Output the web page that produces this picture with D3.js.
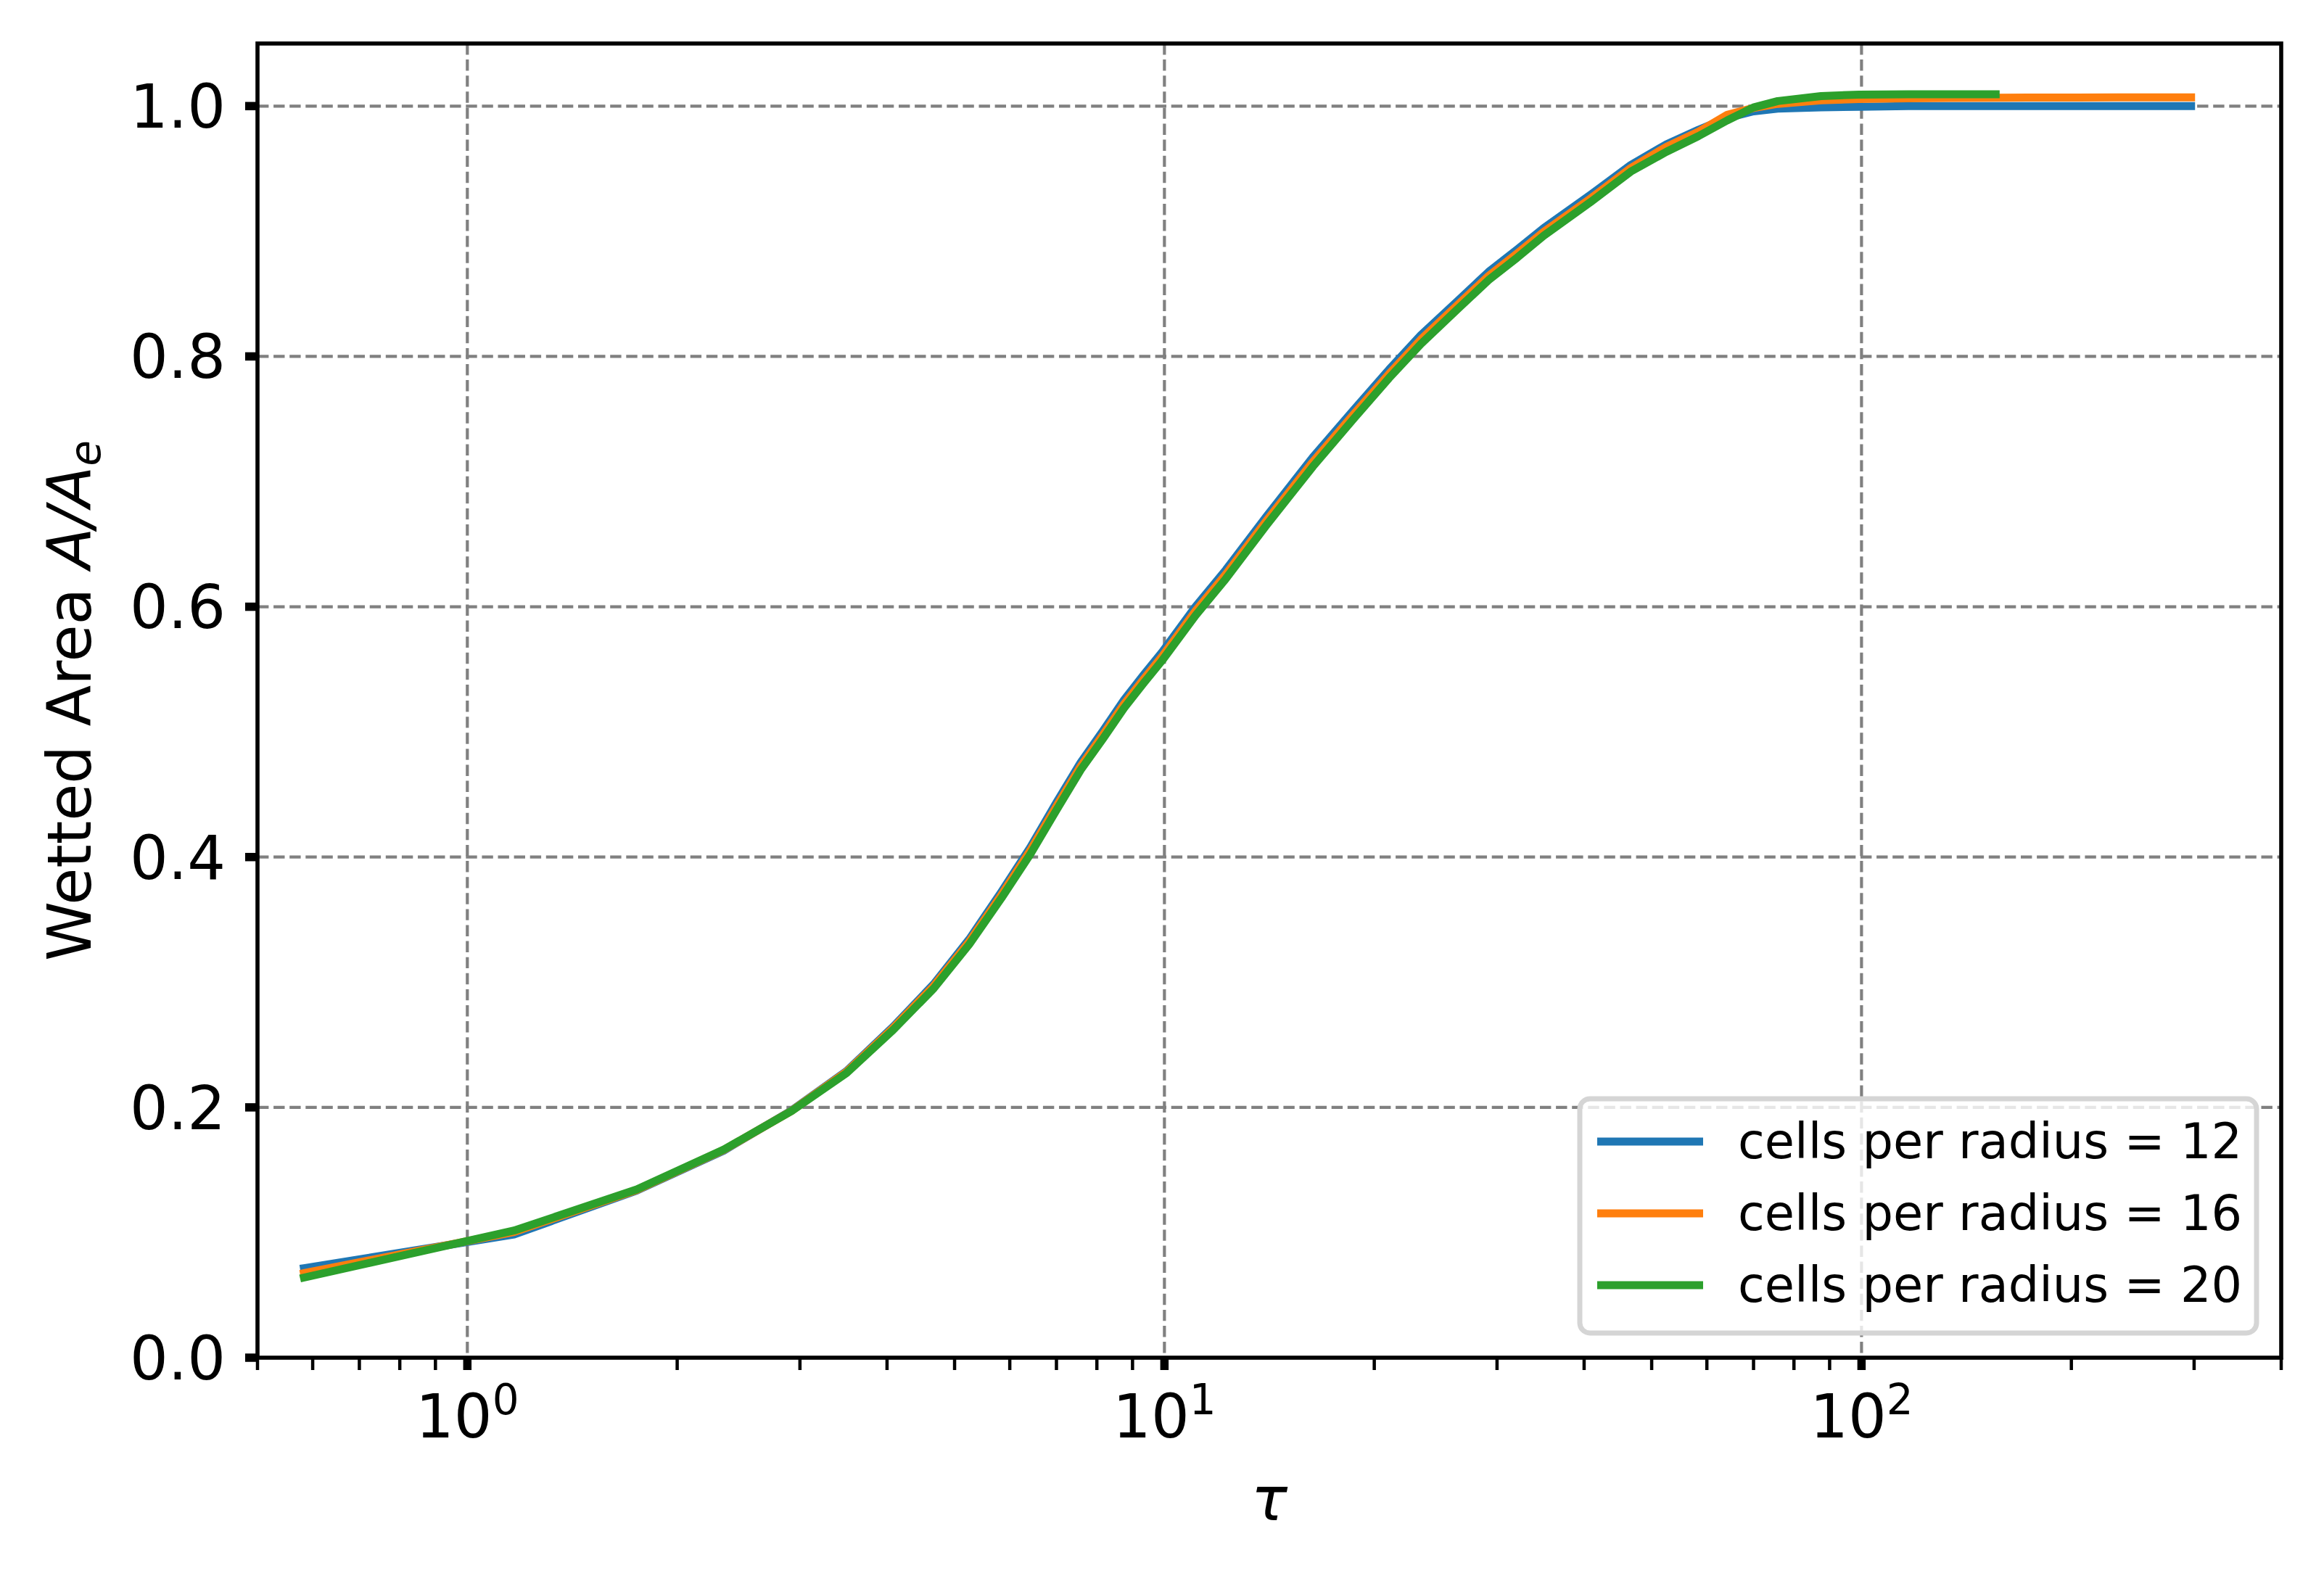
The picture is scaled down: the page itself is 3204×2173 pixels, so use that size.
<!DOCTYPE html>
<html>
<head>
<meta charset="utf-8">
<script src="https://cdn.jsdelivr.net/npm/d3@7"></script>
<style>
	body { margin:0; background:#fff; }
	svg { display:block; }
	text { font-family:'DejaVu Sans', sans-serif; fill:#000; }
</style>
</head>
<body>
<div id="chart"></div>
<script>
// configure figure
const width = 3204
const height = 2173
const margin = {top:60, right:59, bottom:301, left:355}

// data
var tau = [0.583, 1.167, 1.75, 2.333, 2.917, 3.5, 4.083, 4.667, 5.25, 5.833,
	6.417, 7.0, 7.583, 8.167, 8.75, 9.333, 9.917, 11.08, 12.25, 14.0,
	16.33, 18.67, 21.0, 23.33, 26.25, 29.17, 32.08, 35.0, 40.83, 46.67,
	52.5, 58.33, 64.17, 70.0, 75.83, 87.5, 99.17, 116.67, 134.17, 155.75,
	175, 204, 233, 262.5, 297];
var area_12 = [0.0715, 0.0985, 0.1335, 0.1655, 0.1975, 0.229, 0.2645, 0.2985, 0.3345, 0.372,
	0.4075, 0.4435, 0.4755, 0.501, 0.5255, 0.5455, 0.5635, 0.600, 0.6295, 0.672,
	0.7195, 0.757, 0.7895, 0.817, 0.8435, 0.8675, 0.8855, 0.9025, 0.929, 0.953,
	0.9695, 0.981, 0.9905, 0.9958, 0.998, 0.999, 0.9995, 1.0, 1.0, 1.0,
	1.0, 1.0, 1.0, 1.0, 1.0];
var area_16 = [0.0675, 0.1005, 0.134, 0.166, 0.1972, 0.2285, 0.2635, 0.297, 0.3325, 0.3695,
	0.405, 0.4405, 0.4725, 0.4978, 0.5222, 0.542, 0.560, 0.5965, 0.626, 0.6685,
	0.7158, 0.7535, 0.786, 0.8135, 0.8403, 0.8643, 0.8823, 0.8995, 0.926, 0.9505,
	0.9675, 0.9795, 0.993, 0.9985, 1.0018, 1.0046, 1.0057, 1.0062, 1.0065, 1.0067,
	1.0068, 1.0069, 1.007, 1.007, 1.007];
var area_20 = [0.064, 0.1016, 0.1344, 0.1663, 0.197, 0.2275, 0.262, 0.295, 0.3304, 0.367,
	0.402, 0.4375, 0.4696, 0.4947, 0.519, 0.5388, 0.5568, 0.593, 0.6224, 0.665,
	0.712, 0.750, 0.7827, 0.810, 0.837, 0.861, 0.879, 0.8964, 0.9232, 0.9477,
	0.9635, 0.976, 0.9886, 0.9989, 1.004, 1.008, 1.0092, 1.0094, 1.0095, 1.0095];
var series_labels = ['cells per radius = 12', 'cells per radius = 16', 'cells per radius = 20'];
var x_major = [1, 10, 100];
var x_major_exp = ['0', '1', '2'];
var x_minor = [0.5, 0.6, 0.7, 0.8, 0.9, 2, 3, 4, 5, 6, 7, 8, 9,
	20, 30, 40, 50, 60, 70, 80, 90, 200, 300, 400];
var y_ticks = [0.0, 0.2, 0.4, 0.6, 0.8, 1.0];
var x_domain = [0.5, 400];
var y_domain = [0, 1.05];

// styles
const colors = ['#1f77b4', '#ff7f0e', '#2ca02c']
const tick_font = 83
const legend_font = 67

window.onload = function(){
	var svg = d3.select('#chart').append('svg')
		.attr('width', width)
		.attr('height', height);
	svg.append('rect').attr('width', width).attr('height', height).attr('fill', '#fff');
	draw_chart(svg);
}

function draw_chart(svg){
	var plot_w = width - margin.left - margin.right;
	var plot_h = height - margin.top - margin.bottom;

	var x = d3.scaleLog().domain(x_domain).range([margin.left, margin.left + plot_w]);
	var y = d3.scaleLinear().domain(y_domain).range([margin.top + plot_h, margin.top]);

	// pack each series into points
	var series = [area_12, area_16, area_20].map(function(vals, i){
		return {
			label: series_labels[i], color: colors[i],
			points: vals.map(function(v, j){ return {tau: tau[j], area: v}; })
		};
	});

	// dashed grid at major ticks
	var grid = svg.append('g').attr('id', 'grid')
		.attr('stroke', '#808080').attr('stroke-width', 4.2)
		.attr('stroke-dasharray', '15.4,6.7');
	grid.selectAll('line.gx').data(x_major).enter().append('line')
		.attr('x1', function(d){ return x(d); }).attr('x2', function(d){ return x(d); })
		.attr('y1', margin.top).attr('y2', margin.top + plot_h);
	grid.selectAll('line.gy').data(y_ticks).enter().append('line')
		.attr('x1', margin.left).attr('x2', margin.left + plot_w)
		.attr('y1', function(d){ return y(d); }).attr('y2', function(d){ return y(d); });

	// the curves
	var line = d3.line()
		.x(function(d){ return x(d.tau); })
		.y(function(d){ return y(d.area); });
	svg.append('g').attr('id', 'curves')
		.selectAll('path').data(series).enter().append('path')
		.attr('d', function(d){ return line(d.points); })
		.attr('fill', 'none')
		.attr('stroke', function(d){ return d.color; })
		.attr('stroke-width', 11)
		.attr('stroke-linejoin', 'round')
		.attr('stroke-linecap', 'square');

	// frame
	svg.append('rect')
		.attr('x', margin.left).attr('y', margin.top)
		.attr('width', plot_w).attr('height', plot_h)
		.attr('fill', 'none').attr('stroke', '#000').attr('stroke-width', 5.6);

	// x axis: minor ticks, then major ticks with 10^n labels
	var x_minor_axis = svg.append('g')
		.attr('transform', 'translate(0,' + (margin.top + plot_h) + ')')
		.call(d3.axisBottom(x).tickValues(x_minor).tickSize(17).tickFormat('').offset(0));
	x_minor_axis.select('.domain').remove();
	x_minor_axis.selectAll('.tick line').attr('stroke', '#000').attr('stroke-width', 4.5);

	var x_major_axis = svg.append('g')
		.attr('transform', 'translate(0,' + (margin.top + plot_h) + ')')
		.call(d3.axisBottom(x).tickValues(x_major).tickSize(17).tickFormat('').offset(0));
	x_major_axis.select('.domain').remove();
	x_major_axis.selectAll('.tick line').attr('stroke', '#000').attr('stroke-width', 11.5);
	x_major_axis.selectAll('.tick text').remove();
	x_major_axis.selectAll('.tick').each(function(d, i){
		var t = d3.select(this).append('text')
			.attr('y', 110)
			.attr('text-anchor', 'middle')
			.attr('fill', '#000')
			.style('font-size', tick_font + 'px');
		t.append('tspan').text('10');
		t.append('tspan').attr('dy', -32).style('font-size', '58px').text(x_major_exp[i]);
	});

	// y axis
	var y_axis = svg.append('g')
		.attr('transform', 'translate(' + margin.left + ',0)')
		.call(d3.axisLeft(y).tickValues(y_ticks).tickSize(17).tickPadding(27)
			.tickFormat(d3.format('.1f')).offset(0));
	y_axis.select('.domain').remove();
	y_axis.selectAll('.tick line').attr('stroke', '#000').attr('stroke-width', 11.5);
	y_axis.selectAll('.tick text')
		.attr('dy', '0.36em')
		.attr('fill', '#000')
		.style('font-size', tick_font + 'px')
		.style('font-family', "'DejaVu Sans', sans-serif");

	// axis labels
	svg.append('text')
		.attr('x', margin.left + plot_w / 2).attr('y', margin.top + plot_h + 224)
		.attr('text-anchor', 'middle')
		.style('font-size', tick_font + 'px').style('font-style', 'italic')
		.text('τ');

	var ylab = svg.append('text')
		.attr('transform', 'translate(125,' + (margin.top + plot_h / 2) + ') rotate(-90)')
		.attr('text-anchor', 'middle')
		.style('font-size', tick_font + 'px');
	ylab.append('tspan').text('Wetted Area ');
	ylab.append('tspan').style('font-style', 'italic').text('A/A');
	ylab.append('tspan').attr('dy', 13).style('font-style', 'italic').style('font-size', '58px').text('e');

	draw_legend(svg, series, margin.left + plot_w, margin.top + plot_h);
}

function draw_legend(svg, series, right, bottom){
	// legend sits in the lower right corner of the axes
	var box_w = 933, box_h = 323;
	var bx = right - 34 - box_w, by = bottom - 34 - box_h;
	var legend = svg.append('g').attr('id', 'legend');
	legend.append('rect')
		.attr('x', bx).attr('y', by).attr('width', box_w).attr('height', box_h)
		.attr('rx', 14).attr('ry', 14)
		.attr('fill', '#fff').attr('fill-opacity', 0.8)
		.attr('stroke', '#d5d5d5').attr('stroke-width', 7);
	var rows = legend.selectAll('g.row').data(series).enter().append('g')
		.attr('transform', function(d, i){ return 'translate(' + bx + ',' + (by + 59 + i * 99) + ')'; });
	rows.append('line')
		.attr('x1', 24).attr('x2', 170)
		.attr('stroke', function(d){ return d.color; })
		.attr('stroke-width', 11);
	rows.append('text')
		.attr('x', 218).attr('y', 23)
		.style('font-size', legend_font + 'px')
		.text(function(d){ return d.label; });
}
</script>
</body>
</html>
